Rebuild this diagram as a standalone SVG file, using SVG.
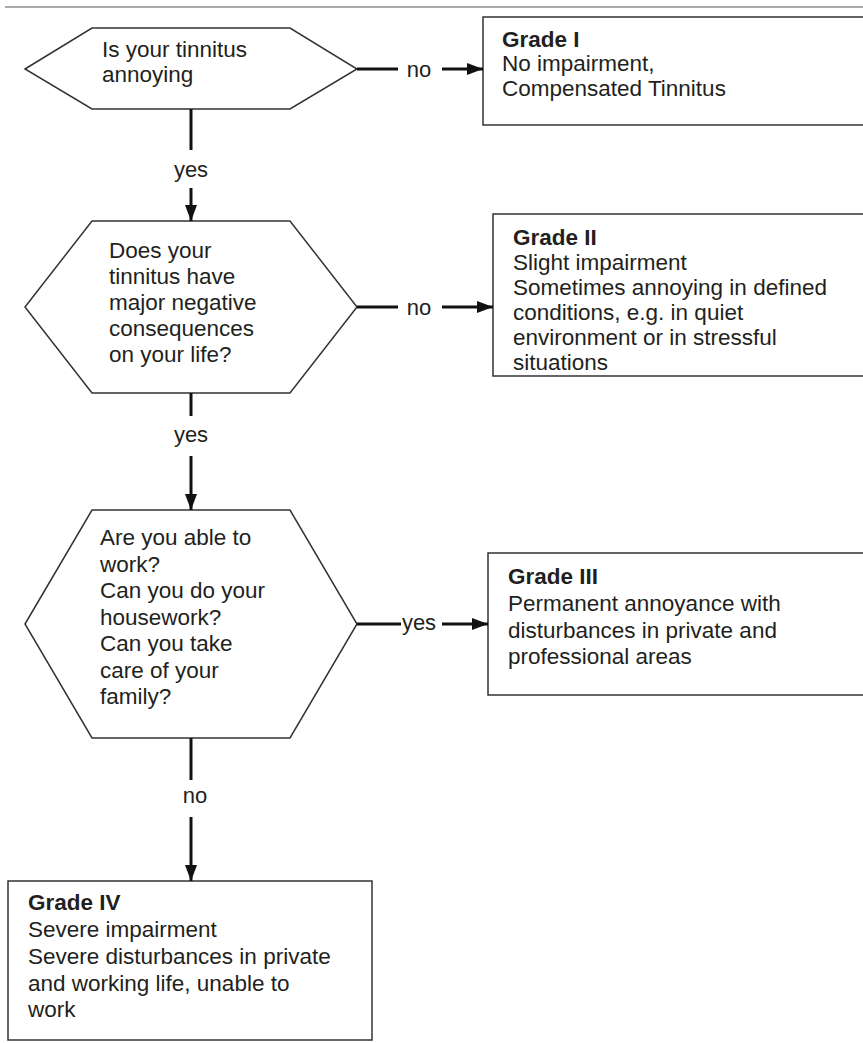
<svg xmlns="http://www.w3.org/2000/svg" width="863" height="1043" viewBox="0 0 863 1043">
<style>
.t{font-family:"Liberation Sans",Arial,sans-serif;font-size:22.5px;fill:#231f20}
.b{font-weight:bold}
.shape{fill:#fff;stroke:#333;stroke-width:1.5}
.con{stroke:#111;stroke-width:3;fill:none}
.lbl{font-family:"Liberation Sans",Arial,sans-serif;font-size:22px;fill:#231f20}
</style>
<defs>
<marker id="ah" viewBox="0 0 16 12" refX="16" refY="6" markerWidth="16" markerHeight="12" markerUnits="userSpaceOnUse" orient="auto">
<path d="M0,0 L16,6 L0,12 z" fill="#111"/>
</marker>
</defs>
<rect width="863" height="1043" fill="#fff"/>
<line x1="5" y1="7" x2="863" y2="7" stroke="#555" stroke-width="1.2"/>

<g id="q1">
<polygon class="shape" points="25,69 92,28 290,28 357,69 290,109 92,109"/>
<text class="t" x="102" y="57">Is your tinnitus</text>
<text class="t" x="102" y="82">annoying</text>
</g>
<g id="g1">
<rect class="shape" x="483" y="17" width="390" height="108"/>
<text class="t b" x="502" y="47">Grade I</text>
<text class="t" x="502" y="71">No impairment,</text>
<text class="t" x="502" y="96">Compensated Tinnitus</text>
</g>
<g id="q2">
<polygon class="shape" points="25,307 92,221 290,221 357,307 290,393 92,393"/>
<text class="t" x="109" y="258">Does your</text>
<text class="t" x="109" y="284">tinnitus have</text>
<text class="t" x="109" y="310">major negative</text>
<text class="t" x="109" y="336">consequences</text>
<text class="t" x="109" y="362">on your life?</text>
</g>
<g id="g2">
<rect class="shape" x="493" y="214" width="380" height="162"/>
<text class="t b" x="513" y="245">Grade II</text>
<text class="t" x="513" y="270">Slight impairment</text>
<text class="t" x="513" y="295">Sometimes annoying in defined</text>
<text class="t" x="513" y="320">conditions, e.g. in quiet</text>
<text class="t" x="513" y="345">environment or in stressful</text>
<text class="t" x="513" y="370">situations</text>
</g>
<g id="q3">
<polygon class="shape" points="25,624 92,510 290,510 357,624 290,738 92,738"/>
<text class="t" x="100" y="545">Are you able to</text>
<text class="t" x="100" y="572">work?</text>
<text class="t" x="100" y="598">Can you do your</text>
<text class="t" x="100" y="625">housework?</text>
<text class="t" x="100" y="651">Can you take</text>
<text class="t" x="100" y="678">care of your</text>
<text class="t" x="100" y="704">family?</text>
</g>
<g id="g3">
<rect class="shape" x="488" y="553" width="385" height="142"/>
<text class="t b" x="508" y="584">Grade III</text>
<text class="t" x="508" y="611">Permanent annoyance with</text>
<text class="t" x="508" y="638">disturbances in private and</text>
<text class="t" x="508" y="664">professional areas</text>
</g>
<g id="g4">
<rect class="shape" x="8" y="881" width="364" height="159"/>
<text class="t b" x="28" y="910">Grade IV</text>
<text class="t" x="28" y="937">Severe impairment</text>
<text class="t" x="28" y="964">Severe disturbances in private</text>
<text class="t" x="28" y="991">and working life, unable to</text>
<text class="t" x="28" y="1017">work</text>
</g>

<g id="connectors">
<line class="con" x1="357" y1="69" x2="398" y2="69"/>
<line class="con" x1="442" y1="69" x2="483" y2="69" marker-end="url(#ah)"/>
<text class="lbl" x="419" y="77" text-anchor="middle">no</text>

<line class="con" x1="191" y1="109" x2="191" y2="150"/>
<line class="con" x1="191" y1="188" x2="191" y2="221" marker-end="url(#ah)"/>
<text class="lbl" x="191" y="177" text-anchor="middle">yes</text>

<line class="con" x1="357" y1="307" x2="398" y2="307"/>
<line class="con" x1="442" y1="307" x2="493" y2="307" marker-end="url(#ah)"/>
<text class="lbl" x="419" y="315" text-anchor="middle">no</text>

<line class="con" x1="191" y1="393" x2="191" y2="416"/>
<line class="con" x1="191" y1="456" x2="191" y2="510" marker-end="url(#ah)"/>
<text class="lbl" x="191" y="442" text-anchor="middle">yes</text>

<line class="con" x1="357" y1="624" x2="401" y2="624"/>
<line class="con" x1="442" y1="624" x2="488" y2="624" marker-end="url(#ah)"/>
<text class="lbl" x="419" y="630" text-anchor="middle">yes</text>

<line class="con" x1="191" y1="738" x2="191" y2="780"/>
<line class="con" x1="191" y1="817" x2="191" y2="881" marker-end="url(#ah)"/>
<text class="lbl" x="195" y="803" text-anchor="middle">no</text>
</g>
</svg>
